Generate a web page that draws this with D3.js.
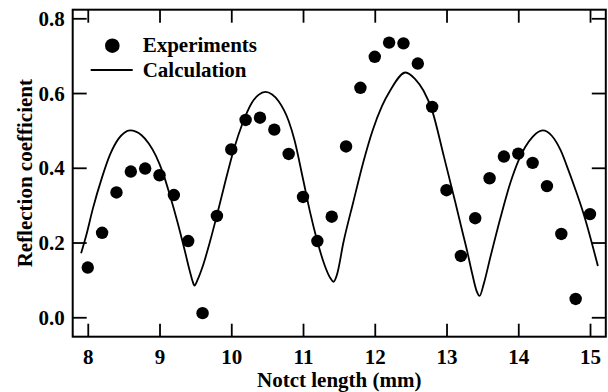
<!DOCTYPE html>
<html>
<head>
<meta charset="utf-8">
<script src="https://cdn.jsdelivr.net/npm/d3@7"></script>
<style>
html,body{margin:0;padding:0;background:#fff;}
svg{display:block;}
text{font-family:"Liberation Serif","Times New Roman",serif;font-weight:bold;fill:#000;}
</style>
</head>
<body>
<svg id="chart" width="608" height="392"></svg>
<script>
// ---- data ----
const expX = [8.0,8.2,8.4,8.6,8.8,9.0,9.2,9.4,9.6,9.8,10.0,10.2,10.4,10.6,10.8,11.0,11.2,11.4,11.6,11.8,12.0,12.2,12.4,12.6,12.8,13.0,13.2,13.4,13.6,13.8,14.0,14.2,14.4,14.6,14.8,15.0];
const expY = [0.133,0.226,0.334,0.390,0.398,0.380,0.327,0.204,0.011,0.271,0.449,0.528,0.534,0.502,0.437,0.322,0.204,0.269,0.457,0.614,0.697,0.735,0.733,0.679,0.563,0.340,0.164,0.265,0.372,0.430,0.438,0.413,0.351,0.223,0.049,0.276];
const calcX = [7.907,7.98,8.07,8.20,8.31,8.43,8.51,8.59,8.75,8.85,8.95,9.05,9.15,9.25,9.35,9.42,9.46,9.487,9.53,9.60,9.70,9.80,9.90,10.045,10.15,10.287,10.38,10.475,10.57,10.66,10.80,10.88,11.00,11.10,11.19,11.30,11.38,11.425,11.47,11.565,11.70,11.84,11.97,12.10,12.215,12.43,12.56,12.68,12.80,12.96,13.12,13.22,13.29,13.36,13.42,13.46,13.52,13.61,13.75,13.89,14.00,14.095,14.20,14.34,14.47,14.59,14.70,14.80,14.91,15.11];
const calcY = [0.171,0.220,0.290,0.375,0.435,0.478,0.494,0.500,0.487,0.465,0.432,0.385,0.323,0.255,0.180,0.125,0.097,0.085,0.100,0.135,0.200,0.273,0.350,0.455,0.515,0.574,0.595,0.603,0.596,0.578,0.525,0.475,0.370,0.280,0.210,0.140,0.105,0.095,0.112,0.202,0.308,0.415,0.500,0.565,0.607,0.655,0.638,0.606,0.553,0.433,0.310,0.230,0.175,0.115,0.070,0.057,0.090,0.160,0.265,0.360,0.418,0.455,0.483,0.500,0.485,0.447,0.393,0.340,0.277,0.137];
const xTicks = [8,9,10,11,12,13,14,15];
const yTicks = [0.0,0.2,0.4,0.6,0.8];
const legendLabels = ["Experiments","Calculation"];
const xTitle = "Notct length (mm)";
const yTitle = "Reflection coefficient";

// ---- layout ----
const L = 72.7, R = 605.8, T = 9.7, B = 336.7;
const svg = d3.select("#chart");
const x = d3.scaleLinear().domain([7.79, 15.22]).range([L, R]);
const y = d3.scaleLinear().domain([-0.052, 0.823]).range([B, T]);

// frame
svg.append("rect").attr("x", L).attr("y", T).attr("width", R - L).attr("height", B - T)
  .attr("fill", "none").attr("stroke", "#000").attr("stroke-width", 2);

// axes with inward ticks
const gx = svg.append("g").attr("transform", `translate(0,${B})`)
  .call(d3.axisBottom(x).tickValues(xTicks).tickSizeInner(-13).tickSizeOuter(0).tickPadding(0).tickFormat(d3.format("d")));
const gxTop = svg.append("g").attr("transform", `translate(0,${T})`)
  .call(d3.axisTop(x).tickValues(xTicks).tickSizeInner(-13).tickSizeOuter(0).tickFormat(""));
const gy = svg.append("g").attr("transform", `translate(${L},0)`)
  .call(d3.axisLeft(y).tickValues(yTicks).tickSizeInner(-14).tickSizeOuter(0).tickPadding(0).tickFormat(d3.format(".1f")));
const gyR = svg.append("g").attr("transform", `translate(${R},0)`)
  .call(d3.axisRight(y).tickValues(yTicks).tickSizeInner(-14).tickSizeOuter(0).tickFormat(""));
[gx, gxTop, gy, gyR].forEach(g => {
  g.select(".domain").remove();
  g.selectAll(".tick line").attr("stroke", "#000").attr("stroke-width", 1.8);
});
gx.selectAll(".tick text").attr("y", 27).attr("dy", 0)
  .style("font-size", "21px").style("font-family", "Liberation Serif").style("font-weight", "bold");
gy.selectAll(".tick text").attr("x", -8).attr("dy", 7).attr("y", 0)
  .style("font-size", "21px").style("font-family", "Liberation Serif").style("font-weight", "bold");

// calculation curve
const line = d3.line().x((d, i) => x(calcX[i])).y((d, i) => y(calcY[i])).curve(d3.curveMonotoneX);
svg.append("path").datum(calcY).attr("d", line)
  .attr("fill", "none").attr("stroke", "#000").attr("stroke-width", 1.8);

// experiment points
svg.append("g").selectAll("circle").data(expY).join("circle")
  .attr("cx", (d, i) => x(expX[i])).attr("cy", d => y(d)).attr("r", 6.2).attr("fill", "#000");

// legend
const lg = svg.append("g");
lg.append("circle").attr("cx", 112.3).attr("cy", 45.7).attr("r", 7.3).attr("fill", "#000");
lg.append("line").attr("x1", 90.7).attr("x2", 132.7).attr("y1", 70).attr("y2", 70)
  .attr("stroke", "#000").attr("stroke-width", 1.8);
lg.append("text").attr("x", 142.7).attr("y", 52.3).style("font-size", "21px").text(legendLabels[0]);
lg.append("text").attr("x", 142.7).attr("y", 77.3).style("font-size", "21px").text(legendLabels[1]);

// titles
svg.append("text").attr("x", (L + R) / 2).attr("y", 387).attr("text-anchor", "middle")
  .style("font-size", "21px").text(xTitle);
svg.append("text").attr("transform", `translate(32,${(T + B) / 2}) rotate(-90)`).attr("text-anchor", "middle")
  .style("font-size", "21px").text(yTitle);
</script>
</body>
</html>
